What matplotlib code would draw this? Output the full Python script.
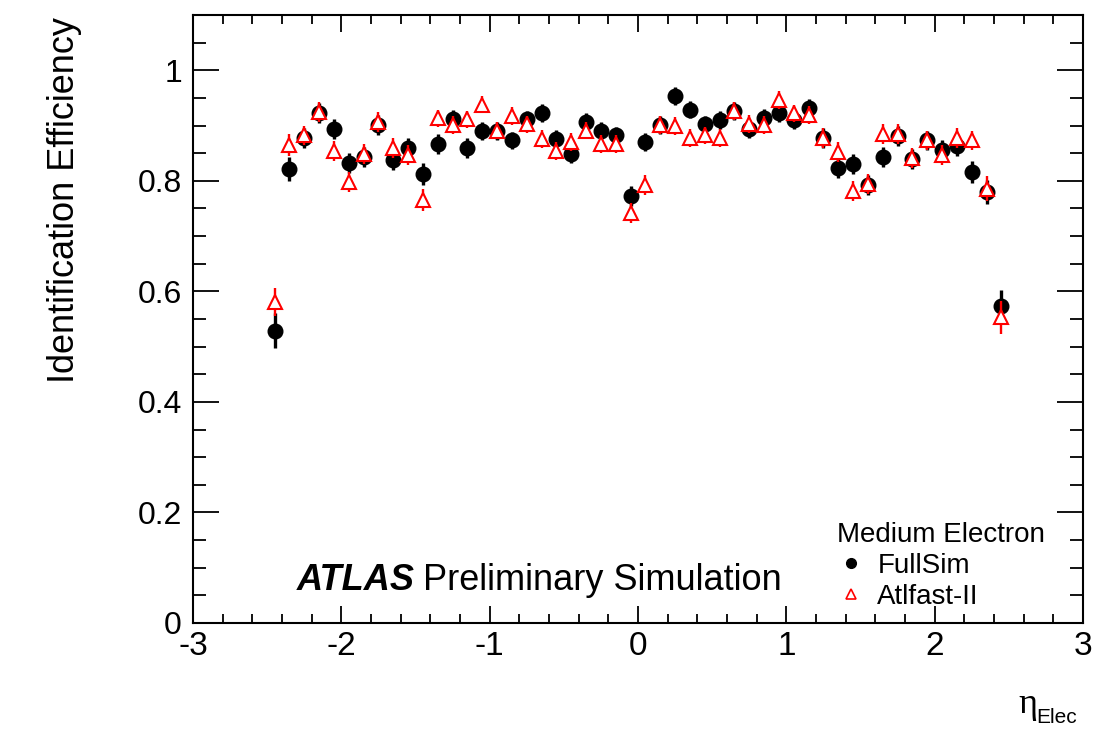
import matplotlib

matplotlib.use("Agg")
import matplotlib.pyplot as plt
from matplotlib.lines import Line2D
from matplotlib.ticker import MultipleLocator

W, H = 1118, 734

eta = [-2.45, -2.35, -2.25, -2.15, -2.05, -1.95, -1.85, -1.75, -1.65, -1.55,
       -1.45, -1.35, -1.25, -1.15, -1.05, -0.95, -0.85, -0.75, -0.65, -0.55,
       -0.45, -0.35, -0.25, -0.15, -0.05, 0.05, 0.15, 0.25, 0.35, 0.45,
       0.55, 0.65, 0.75, 0.85, 0.95, 1.05, 1.15, 1.25, 1.35, 1.45,
       1.55, 1.65, 1.75, 1.85, 1.95, 2.05, 2.15, 2.25, 2.35, 2.45]

fullsim = [0.529, 0.821, 0.877, 0.922, 0.893, 0.832, 0.843, 0.901, 0.838, 0.860,
           0.813, 0.866, 0.911, 0.860, 0.890, 0.890, 0.873, 0.911, 0.923, 0.876,
           0.848, 0.907, 0.890, 0.882, 0.772, 0.870, 0.901, 0.954, 0.929, 0.902,
           0.910, 0.926, 0.894, 0.914, 0.922, 0.910, 0.932, 0.878, 0.824, 0.831,
           0.792, 0.843, 0.881, 0.840, 0.873, 0.855, 0.863, 0.816, 0.780, 0.573]
fullsim_err = [0.032, 0.022, 0.018, 0.018, 0.018, 0.018, 0.018, 0.018, 0.018, 0.018,
               0.020, 0.018, 0.018, 0.018, 0.016, 0.016, 0.016, 0.016, 0.016, 0.016,
               0.016, 0.016, 0.016, 0.016, 0.018, 0.016, 0.016, 0.016, 0.016, 0.016,
               0.016, 0.016, 0.016, 0.016, 0.016, 0.016, 0.016, 0.018, 0.018, 0.018,
               0.018, 0.018, 0.018, 0.018, 0.018, 0.018, 0.018, 0.020, 0.022, 0.030]

atlfast = [0.581, 0.864, 0.882, 0.925, 0.854, 0.798, 0.848, 0.907, 0.860, 0.846,
           0.766, 0.913, 0.901, 0.911, 0.938, 0.891, 0.917, 0.902, 0.876, 0.854,
           0.870, 0.891, 0.867, 0.867, 0.741, 0.792, 0.901, 0.899, 0.878, 0.882,
           0.878, 0.926, 0.903, 0.901, 0.946, 0.922, 0.919, 0.878, 0.852, 0.782,
           0.795, 0.884, 0.884, 0.841, 0.873, 0.846, 0.878, 0.873, 0.786, 0.553]
atlfast_err = [0.025, 0.020, 0.018, 0.018, 0.018, 0.018, 0.018, 0.018, 0.018, 0.018,
               0.020, 0.016, 0.016, 0.016, 0.016, 0.016, 0.016, 0.016, 0.016, 0.016,
               0.016, 0.016, 0.016, 0.016, 0.018, 0.018, 0.016, 0.016, 0.016, 0.016,
               0.016, 0.016, 0.016, 0.016, 0.016, 0.016, 0.016, 0.018, 0.018, 0.018,
               0.018, 0.018, 0.018, 0.018, 0.018, 0.018, 0.018, 0.018, 0.022, 0.030]

plt.rcParams["font.family"] = ["Liberation Sans", "DejaVu Sans"]
plt.rcParams["axes.unicode_minus"] = False


def fx(px):
    return px / W


def fy(py):
    return 1 - py / H


fig = plt.figure(figsize=(W / 100, H / 100), dpi=100)
ax = fig.add_axes([fx(193), fy(623), fx(1083) - fx(193), fy(15) - fy(623)])

ax.errorbar(eta, fullsim, yerr=fullsim_err, fmt="o", color="black", ms=10.5,
            elinewidth=2.4, capsize=0, zorder=3)
ax.errorbar(eta, atlfast, yerr=atlfast_err, fmt="^", color="red", mfc="white",
            mec="red", mew=1.5, ms=10.5, elinewidth=1.7, capsize=0, zorder=4)

ax.set_xlim(-3, 3)
ax.set_ylim(0, 1.1)
ax.xaxis.set_major_locator(MultipleLocator(1))
ax.xaxis.set_minor_locator(MultipleLocator(0.2))
ax.yaxis.set_major_locator(MultipleLocator(0.2))
ax.yaxis.set_minor_locator(MultipleLocator(0.05))
ax.set_yticks([0, 0.2, 0.4, 0.6, 0.8, 1.0], ["0", "0.2", "0.4", "0.6", "0.8", "1"])

ax.tick_params(which="both", direction="in", top=True, right=True, width=1.3)
ax.tick_params(axis="x", which="major", length=12.5, labelsize=24, pad=6)
ax.tick_params(axis="x", which="minor", length=6.5)
ax.tick_params(axis="y", which="major", length=19, labelsize=23, pad=8)
ax.tick_params(axis="y", which="minor", length=9.5)
for s in ax.spines.values():
    s.set_linewidth(1.5)

fig.text(fx(65), fy(17), "Identification Efficiency", rotation=90,
         ha="center", va="top", fontsize=26)
fig.text(fx(1018), fy(713), "η", family="Liberation Serif", fontsize=26,
         va="baseline", ha="left")
fig.text(fx(1036), fy(723), "Elec", fontsize=15, va="baseline", ha="left")

fig.text(fx(297), fy(580), "ATLAS", fontsize=26, fontweight="bold",
         fontstyle="italic", va="center", ha="left")
fig.text(fx(423), fy(580), "Preliminary Simulation", fontsize=26,
         va="center", ha="left")

handles = [
    Line2D([], [], ls="none", marker="o", color="black", ms=7),
    Line2D([], [], ls="none", marker="^", mfc="white", mec="red", mew=1.2, ms=7),
]
leg = ax.legend(handles, ["FullSim", "Atlfast-II"], title="Medium Electron",
                loc="upper left", bbox_to_anchor=(fx(837), fy(522)),
                bbox_transform=fig.transFigure, frameon=False, fontsize=20,
                title_fontsize=20, alignment="left", handlelength=1.0,
                handletextpad=0.45, labelspacing=0.18, borderpad=0, borderaxespad=0)

fig.savefig("out.png", dpi=100)
